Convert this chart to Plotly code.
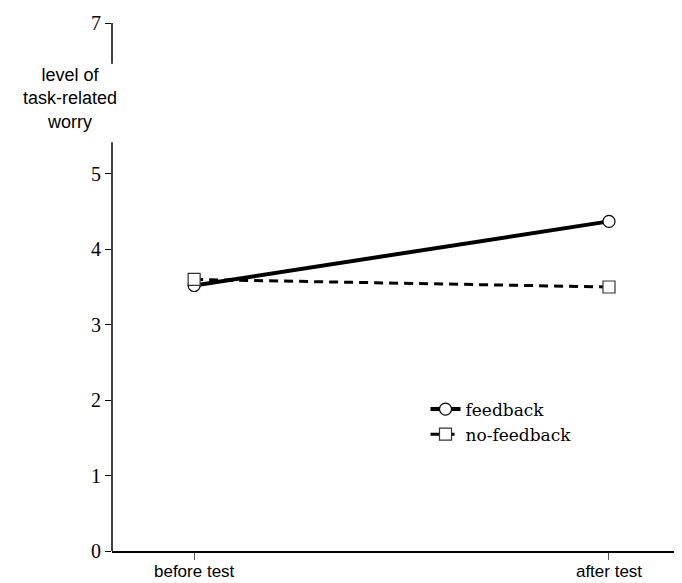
import plotly.graph_objects as go

categories = ["before test", "after test"]
feedback = [3.52, 4.37]
no_feedback = [3.60, 3.50]
y_tickvals = [0, 1, 2, 3, 4, 5, 7]
y_ticktext = ["0", "1", "2", "3", "4", "5", "7"]
axis_break = [5.42, 6.46]

serif = "Liberation Serif"
sans = "Liberation Sans"

fig = go.Figure()
fig.add_trace(go.Scatter(
    x=categories, y=feedback, name="feedback", mode="lines+markers",
    line=dict(color="black", width=4),
    marker=dict(symbol="circle", size=12, color="white", line=dict(color="black", width=1.2)),
))
fig.add_trace(go.Scatter(
    x=categories, y=no_feedback, name="no-feedback", mode="lines+markers",
    line=dict(color="black", width=3, dash="9px,6px"),
    marker=dict(symbol="square", size=12, color="white", line=dict(color="#333", width=1.2)),
))

# broken y-axis line
fig.add_shape(type="line", xref="paper", yref="y", x0=0, x1=0, y0=0, y1=axis_break[0],
              line=dict(color="black", width=1.5))
fig.add_shape(type="line", xref="paper", yref="y", x0=0, x1=0, y0=axis_break[1], y1=7,
              line=dict(color="black", width=1.5))

fig.add_annotation(text="level of<br>task-related<br>worry", xref="paper", yref="y",
                   x=0, y=6.0, xanchor="center", yanchor="middle", xshift=-42,
                   showarrow=False, align="center",
                   font=dict(family=sans, size=18, color="black"))

fig.update_layout(
    width=674, height=575,
    margin=dict(l=104, r=0, t=15, b=32, autoexpand=False),
    plot_bgcolor="white", paper_bgcolor="white",
    showlegend=True,
    legend=dict(x=0.55, y=0.302, xanchor="left", yanchor="top",
                font=dict(family="DejaVu Serif", size=17, color="black"),
                bgcolor="rgba(0,0,0,0)", tracegroupgap=0, itemwidth=30),
    xaxis=dict(type="category", range=[-0.198, 1.176], showgrid=False, zeroline=False,
               showline=True, linecolor="black", linewidth=2, automargin=False,
               ticks="outside", ticklen=7, tickcolor="#555", tickwidth=1,
               ticklabelstandoff=-3,
               tickfont=dict(family=sans, size=17, color="black")),
    yaxis=dict(range=[0, 7], showgrid=False, zeroline=False, showline=False, automargin=False,
               tickvals=y_tickvals, ticktext=y_ticktext,
               ticks="outside", ticklen=6, tickcolor="black", tickwidth=1,
               tickfont=dict(family=serif, size=20, color="black")),
)

fig.write_html("out.html")
